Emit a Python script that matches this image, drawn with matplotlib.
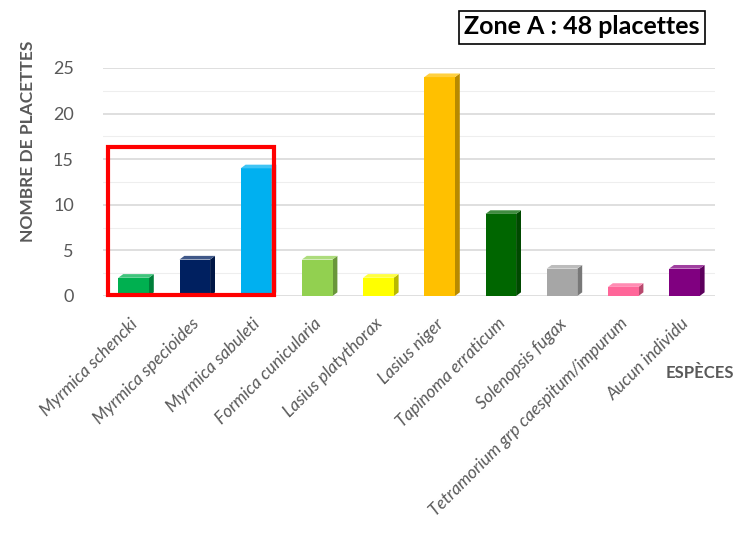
import matplotlib
matplotlib.use("Agg")
import matplotlib.pyplot as plt
import matplotlib.transforms as mtransforms
from matplotlib.patches import Polygon, Rectangle
from matplotlib.colors import to_rgb
import numpy as np

especes = ["Myrmica schencki", "Myrmica specioides", "Myrmica sabuleti",
           "Formica cunicularia", "Lasius platythorax", "Lasius niger",
           "Tapinoma erraticum", "Solenopsis fugax",
           "Tetramorium grp caespitum/impurum", "Aucun individu"]
placettes = [2, 4, 14, 4, 2, 24, 9, 3, 1, 3]
couleurs = ["#00b050", "#002060", "#00b0f0", "#92d050", "#ffff00",
            "#ffc000", "#006600", "#a6a6a6", "#ff6699", "#800080"]

plt.rcParams['font.family'] = ['Lato', 'DejaVu Sans']
gris = "#595959"

fig = plt.figure(figsize=(7.37, 5.41), dpi=100)
ax = fig.add_axes([103 / 737, 1 - 296 / 541, 612 / 737, 228 / 541])

x = np.arange(len(especes))
largeur = 0.5
dx, dy = 0.08, 0.4  # profondeur du faux 3D


def assombrir(c, f):
    r, g, b = to_rgb(c)
    return (r * f, g * f, b * f)


def eclaircir(c, f):
    r, g, b = to_rgb(c)
    return (r + (1 - r) * f, g + (1 - g) * f, b + (1 - b) * f)


# grille
for v in np.arange(0, 26, 2.5):
    ax.axhline(v, color="#d9d9d9" if v % 5 == 0 else "#eeeeee",
               lw=1.2 if v % 5 == 0 else 0.8, zorder=0)

ax.bar(x, placettes, width=largeur, color=couleurs, zorder=3)
for xi, h, c in zip(x, placettes, couleurs):
    g, d = xi - largeur / 2, xi + largeur / 2
    cote = Polygon([(d, 0), (d + dx, dy), (d + dx, h + dy), (d, h)],
                   closed=True, facecolor=assombrir(c, 0.72), edgecolor="none", zorder=2)
    dessus = Polygon([(g, h), (g + dx, h + dy), (d + dx, h + dy), (d, h)],
                     closed=True, facecolor=eclaircir(c, 0.25), edgecolor="none", zorder=4)
    ax.add_patch(cote)
    ax.add_patch(dessus)

ax.set_xlim(-0.5, len(especes) - 0.5)
ax.set_ylim(0, 25)
ax.set_yticks([0, 5, 10, 15, 20, 25])
ax.tick_params(axis='y', length=0, labelsize=13, labelcolor=gris, pad=21)
ax.set_xticks(x)
ax.set_xticklabels(especes, rotation=45, ha='right', va='top', rotation_mode='anchor',
                   fontstyle='italic', fontsize=12.5, color=gris)
ax.tick_params(axis='x', length=0, pad=14)
decalage = mtransforms.ScaledTranslation(-4 / 100, 0, fig.dpi_scale_trans)
for lab in ax.get_xticklabels():
    lab.set_transform(lab.get_transform() + decalage)
for s in ax.spines.values():
    s.set_visible(False)

ax.set_ylabel("NOMBRE DE PLACETTES", fontsize=12.5, fontweight='bold', color=gris)
ax.yaxis.set_label_coords(-0.109, 0.68)
fig.text(700 / 737, 1 - 373 / 541, "ESPÈCES", fontsize=12, fontweight='bold',
         color=gris, ha='center', va='center')

# cadre rouge autour des Myrmica
fig.patches.append(Rectangle((108 / 737, 1 - 295 / 541), 166 / 737, 148 / 541,
                             transform=fig.transFigure, fill=False,
                             edgecolor="#ff0000", lw=3, zorder=10))

fig.text(582 / 737, 1 - 27 / 541, "Zone A : 48 placettes", fontsize=18,
         fontweight='bold', color='black', ha='center', va='center',
         bbox=dict(boxstyle='square,pad=0.2', facecolor='white', edgecolor='black', lw=1.2))

fig.savefig("out.png", dpi=100)
